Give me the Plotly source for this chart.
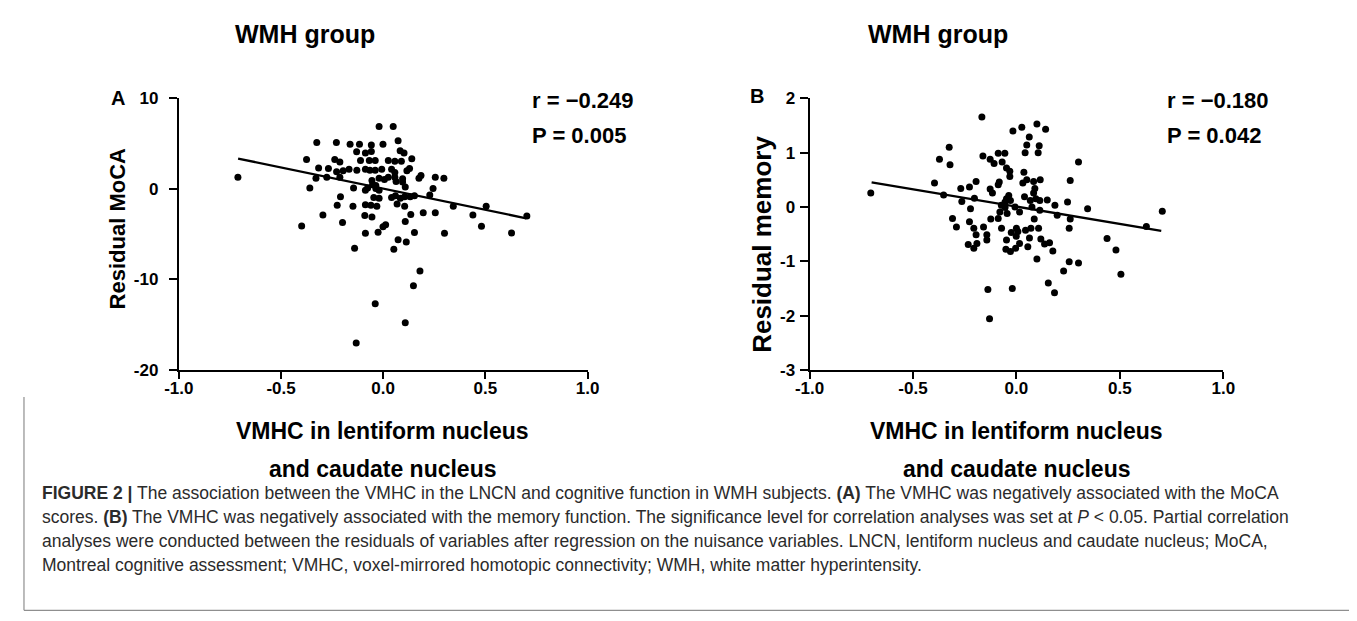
import plotly.graph_objects as go

W, H = 1357, 621

# ---------------- data ----------------
a_x = [-0.711, -0.020, 0.049, -0.325, -0.229, -0.162, -0.116, -0.058, -0.001, 0.073,
       -0.130, -0.087, -0.058, 0.083, 0.102, -0.375, -0.237, -0.212, -0.111, -0.068,
       -0.039, 0.025, 0.057, 0.089, 0.140, -0.316, -0.268, -0.228, -0.196, -0.167,
       -0.129, -0.087, -0.065, -0.039, -0.007, 0.041, 0.057, 0.116, 0.129, -0.329,
       -0.276, -0.212, -0.020, 0.006, 0.025, 0.057, 0.063, 0.095, 0.095, 0.175,
       0.185, 0.255, 0.297, -0.055, -0.052, -0.359, -0.145, -0.087, -0.076, -0.036,
       -0.020, 0.108, 0.244, -0.209, -0.046, -0.020, 0.041, 0.060, 0.084, 0.105,
       0.132, 0.153, 0.228, 0.343, -0.225, -0.148, -0.087, -0.060, -0.031, 0.068,
       0.105, -0.295, -0.090, -0.055, 0.135, 0.196, 0.255, -0.399, -0.199, -0.001,
       0.012, 0.108, -0.087, -0.025, 0.153, 0.300, 0.073, 0.113, -0.140, 0.052,
       0.180, 0.148, -0.039, 0.108, -0.132, 0.504, 0.439, 0.481, 0.628, 0.703, -0.036]
a_y = [1.29, 6.89, 6.89, 5.14, 5.14, 4.93, 4.93, 4.86, 4.93, 5.32,
       4.11, 3.97, 4.14, 4.21, 3.97, 3.25, 3.25, 2.97, 3.14, 3.14,
       3.14, 3.14, 3.07, 3.07, 3.32, 2.32, 2.25, 1.90, 2.00, 2.18,
       2.07, 2.18, 2.07, 2.07, 2.18, 2.18, 1.82, 2.00, 2.25, 1.18,
       1.29, 1.29, 1.18, 1.04, 1.29, 1.29, 0.82, 1.11, 0.75, 1.18,
       1.47, 1.29, 1.18, 0.93, 0.46, 0.11, 0.11, -0.14, 0.11, 0.04,
       -0.14, 0.21, 0.04, -0.86, -0.96, -1.04, -0.96, -0.75, -1.04, -0.86,
       -0.86, -0.75, -0.68, -1.93, -1.82, -1.93, -1.75, -1.82, -1.93, -1.68,
       -1.93, -2.89, -2.93, -3.11, -2.82, -2.64, -2.64, -4.11, -3.71, -4.18,
       -3.96, -3.61, -4.89, -4.79, -4.82, -4.89, -5.61, -5.86, -6.57, -6.68,
       -9.08, -10.69, -12.68, -14.79, -17.04, -1.93, -2.89, -4.14, -4.86, -3.00, 0.39]
a_fit_x = [-0.71, 0.70]
a_fit_y = [3.36, -3.25]

b_x = [-0.167, -0.017, 0.026, 0.099, 0.141, 0.062, -0.325, 0.050, 0.110, -0.162,
       -0.088, -0.056, 0.042, 0.105, -0.372, -0.321, -0.127, -0.108, -0.069, -0.048,
       -0.032, 0.300, 0.036, -0.032, -0.396, -0.195, -0.083, -0.088, 0.031, 0.050,
       0.083, 0.115, 0.260, -0.269, -0.227, -0.127, -0.116, 0.089, 0.083, 0.039,
       -0.037, -0.048, -0.704, -0.352, -0.264, -0.203, -0.055, -0.073, -0.029, 0.067,
       0.094, 0.113, 0.149, 0.247, 0.186, 0.344, -0.222, -0.055, -0.007, 0.015,
       0.075, 0.113, -0.080, -0.045, -0.309, -0.227, -0.124, -0.088, 0.086, 0.197,
       0.260, -0.290, -0.206, -0.159, -0.072, 0.000, 0.070, 0.107, 0.255, -0.195,
       -0.143, -0.025, 0.007, 0.044, -0.001, -0.048, 0.063, 0.118, -0.233, -0.191,
       -0.143, -0.206, -0.051, -0.029, -0.004, 0.015, 0.055, 0.136, 0.160, 0.176,
       0.099, 0.255, 0.300, 0.228, -0.138, -0.020, 0.154, 0.184, -0.130, 0.705,
       0.628, 0.438, 0.481, 0.505]
b_y = [1.66, 1.40, 1.47, 1.53, 1.43, 1.29, 1.10, 1.14, 1.13, 0.94,
       0.99, 0.99, 1.00, 1.00, 0.88, 0.78, 0.88, 0.80, 0.83, 0.72,
       0.66, 0.83, 0.64, 0.56, 0.44, 0.47, 0.46, 0.41, 0.44, 0.50,
       0.47, 0.50, 0.49, 0.34, 0.37, 0.33, 0.26, 0.34, 0.26, 0.19,
       0.21, 0.15, 0.26, 0.22, 0.10, 0.16, 0.09, 0.03, 0.12, 0.12,
       0.15, 0.12, 0.13, 0.09, 0.03, -0.03, -0.03, -0.01, 0.00, -0.09,
       0.00, -0.06, -0.09, -0.12, -0.21, -0.27, -0.22, -0.21, -0.22, -0.15,
       -0.22, -0.37, -0.39, -0.37, -0.39, -0.39, -0.39, -0.39, -0.39, -0.51,
       -0.51, -0.47, -0.45, -0.43, -0.54, -0.61, -0.57, -0.59, -0.69, -0.67,
       -0.61, -0.76, -0.78, -0.82, -0.76, -0.67, -0.73, -0.68, -0.66, -0.81,
       -0.96, -1.01, -1.03, -1.18, -1.52, -1.50, -1.40, -1.58, -2.06, -0.08,
       -0.36, -0.58, -0.79, -1.24]
b_fit_x = [-0.70, 0.70]
b_fit_y = [0.455, -0.44]

x_ticks = [-1, -0.5, 0, 0.5, 1]
x_ticktext = ["-1.0", "-0.5", "0.0", "0.5", "1.0"]
a_yticks = [-20, -10, 0, 10]
a_yticktext = ["-20", "-10", "0", "10"]
b_yticks = [-3, -2, -1, 0, 1, 2]
b_yticktext = ["-3", "-2", "-1", "0", "1", "2"]

panel_titles = ["WMH group", "WMH group"]
y_titles = ["Residual MoCA", "Residual memory"]
x_title_lines = ["VMHC in lentiform nucleus", "and caudate nucleus"]
stats_a = ["r = \u22120.249", "P = 0.005"]
stats_b = ["r = \u22120.180", "P = 0.042"]

caption_lines = [
    "<b>FIGURE 2 |</b> The association between the VMHC in the LNCN and cognitive function in WMH subjects. <b>(A)</b> The VMHC was negatively associated with the MoCA",
    "scores. <b>(B)</b> The VMHC was negatively associated with the memory function. The significance level for correlation analyses was set at <i>P</i> &lt; 0.05. Partial correlation",
    "analyses were conducted between the residuals of variables after regression on the nuisance variables. LNCN, lentiform nucleus and caudate nucleus; MoCA,",
    "Montreal cognitive assessment; VMHC, voxel-mirrored homotopic connectivity; WMH, white matter hyperintensity.",
]

# ---------------- layout helpers ----------------
def px(x):
    return x / W

def py(y):
    return 1 - y / H

BOLD = "Liberation Sans, Arial, sans-serif"
REG = "Liberation Sans, Arial, sans-serif"

fig = go.Figure()

marker = dict(color="black", size=7)
line = dict(color="black", width=2.3)

fig.add_trace(go.Scatter(x=a_x, y=a_y, mode="markers", marker=marker, xaxis="x", yaxis="y", showlegend=False))
fig.add_trace(go.Scatter(x=a_fit_x, y=a_fit_y, mode="lines", line=line, xaxis="x", yaxis="y", showlegend=False))
fig.add_trace(go.Scatter(x=b_x, y=b_y, mode="markers", marker=marker, xaxis="x2", yaxis="y2", showlegend=False))
fig.add_trace(go.Scatter(x=b_fit_x, y=b_fit_y, mode="lines", line=line, xaxis="x2", yaxis="y2", showlegend=False))

tickfont = dict(family=BOLD, size=17, color="black", weight="bold")
ax_common = dict(showline=True, linecolor="black", linewidth=2, ticks="outside",
                 tickwidth=2, tickcolor="black", showgrid=False, zeroline=False,
                 tickfont=tickfont, fixedrange=True)

fig.update_layout(
    width=W, height=H,
    margin=dict(l=0, r=0, t=0, b=0),
    paper_bgcolor="white", plot_bgcolor="white",
    xaxis=dict(domain=[px(159), px(576)], range=[-1, 1], tickvals=x_ticks, ticktext=x_ticktext,
               anchor="y", ticklen=7, ticklabelstandoff=-5, **ax_common),
    yaxis=dict(domain=[py(364), py(84)], range=[-20, 10], tickvals=a_yticks, ticktext=a_yticktext,
               anchor="x", ticklen=8, ticklabelstandoff=7, **ax_common),
    xaxis2=dict(domain=[px(802.5), px(1224.7)], range=[-1, 1], tickvals=x_ticks, ticktext=x_ticktext,
                anchor="y2", ticklen=7, ticklabelstandoff=-5, **ax_common),
    yaxis2=dict(domain=[py(364), py(84)], range=[-3, 2], tickvals=b_yticks, ticktext=b_yticktext,
                anchor="x2", ticklen=8, ticklabelstandoff=1, **ax_common),
)

ann = []
def add_text(text, x, y, size, xanchor="center", yanchor="middle", bold=True, angle=0,
             family=BOLD, color="black"):
    ann.append(dict(text=text, x=px(x), y=py(y), xref="paper", yref="paper", showarrow=False,
                    xanchor=xanchor, yanchor=yanchor, textangle=angle,
                    font=dict(family=family, size=size, color=color,
                              weight="bold" if bold else "normal")))

# titles
add_text(panel_titles[0], 288, 18, 25)
add_text(panel_titles[1], 934, 18, 25)
# panel letters
add_text("A", 97, 84, 20)
add_text("B", 749, 82, 20)
# y titles
add_text(y_titles[0], 96, 219, 22, angle=-90)
add_text(y_titles[1], 754, 234, 26, angle=-90)
# x titles
for cx in (367, 1014):
    add_text(x_title_lines[0], cx, 427, 23)
    add_text(x_title_lines[1], cx, 466, 23)
# stats
add_text(stats_a[0], 517, 86, 22, xanchor="left")
add_text(stats_a[1], 517, 122, 22, xanchor="left")
add_text(stats_b[0], 1165, 86, 22, xanchor="left")
add_text(stats_b[1], 1165, 122, 22, xanchor="left")
# caption
for i, t in enumerate(caption_lines):
    add_text(t, 17, 491 + 24.7 * i, 17.5, xanchor="left", bold=False, family=REG, color="#2b2b2b")

fig.update_layout(annotations=ann)

# caption frame
frame = dict(type="line", xref="paper", yref="paper", line=dict(color="#8f8f8f", width=1.2))
fig.update_layout(shapes=[
    dict(frame, x0=px(1), x1=px(1), y0=py(392), y1=py(612)),
    dict(frame, x0=px(1), x1=px(1355), y0=py(612), y1=py(612)),
    dict(frame, x0=px(1355), x1=px(1355), y0=py(392), y1=py(612)),
])

fig.write_html("out.html")
